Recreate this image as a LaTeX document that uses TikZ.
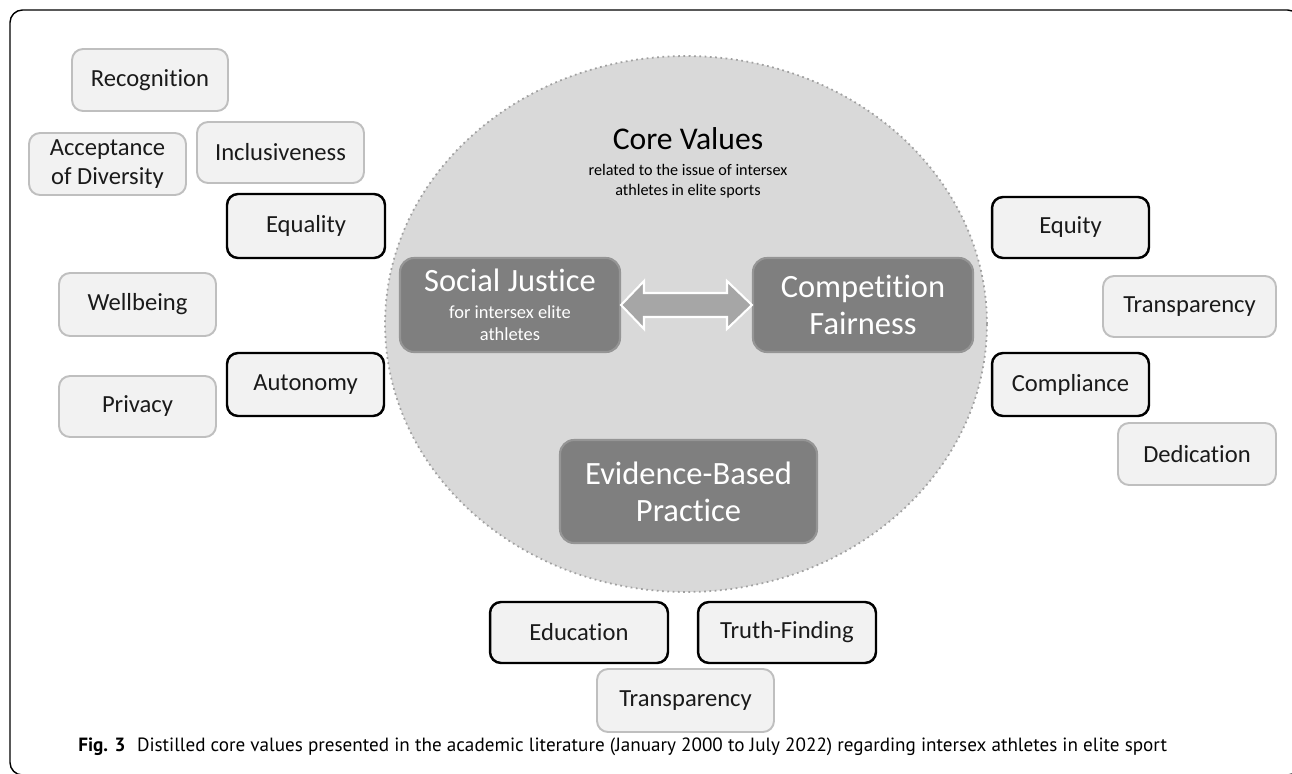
\documentclass[tikz,border=0pt]{standalone}
\usepackage{fontspec}
\setmainfont{Carlito}[Ligatures=CommonOff]
\newfontfamily\captionfont{PT Sans}
\usetikzlibrary{shapes.geometric,calc}
\definecolor{boxfill}{HTML}{F2F2F2}
\definecolor{boxline}{HTML}{BFBFBF}
\definecolor{corefill}{HTML}{7F7F7F}
\definecolor{coreline}{HTML}{959595}
\definecolor{discfill}{HTML}{D9D9D9}
\definecolor{discline}{HTML}{A0A0A0}
\definecolor{arrowfill}{HTML}{A6A6A6}
\definecolor{ink}{HTML}{1A1A1A}
\newcommand{\subtag}[1]{{\fontsize{10.5}{12.5}\selectfont #1}}
\tikzset{
  valuebox/.style={draw=boxline,fill=boxfill,line width=1.1pt,rounded corners=0.22cm,
    minimum width=3.14cm,minimum height=1.24cm,align=center,text=ink,inner sep=0pt,
    font=\fontsize{14}{16.5}\selectfont},
  keybox/.style={valuebox,draw=black,line width=1.4pt},
  corebox/.style={draw=coreline,fill=corefill,line width=1.2pt,rounded corners=0.28cm,
    minimum width=4.40cm,minimum height=1.88cm,align=center,text=white,inner sep=0pt,
    font=\fontsize{18.5}{21}\selectfont},
  disc/.style={ellipse,draw=discline,fill=discfill,dotted,line width=1pt,
    minimum width=12.04cm,minimum height=10.72cm},
  fatarrow/.style={draw=white,fill=arrowfill,line width=1.2pt,line join=miter}
}
\begin{document}
\begin{tikzpicture}[x=0.02cm,y=-0.02cm]
\useasboundingbox(0,0)rectangle(1292,774);
\draw[line width=0.8pt,rounded corners=0.25cm](10,10)rectangle(1300,775);

\node[disc](values)at(686,324){};
\node[font=\fontsize{18}{21}\selectfont,anchor=base](title)at(688,149){Core Values};
\node[font=\fontsize{9.2}{11.3}\selectfont,align=center](sub)at(688,181){related to the issue of intersex\\athletes in elite sports};

\node[corebox,font=\fontsize{18.5}{12.5}\selectfont](sj)at(510,305){Social Justice\\[3pt]\subtag{for intersex elite}\\\subtag{athletes}};
\node[corebox](cf)at(863,305){Competition\\Fairness};
\node[corebox,minimum width=5.14cm,minimum height=2.06cm](ebp)at(688.5,491.5){Evidence-Based\\Practice};
\draw[fatarrow](sj.east)--++(23,-24)--++(0,12)--($(cf.west)+(-25,-12)$)--++(0,-12)--(cf.west)
  --++(-25,24)--++(0,-12)--($(sj.east)+(23,12)$)--++(0,12)--cycle;

\node[valuebox,minimum width=3.12cm](recog)at(150,80){Recognition};
\node[valuebox](accept)at(107.5,164){Acceptance\\of Diversity};
\node[valuebox,minimum width=3.34cm,minimum height=1.22cm](incl)at(280.5,152.5){Inclusiveness};
\node[keybox,minimum width=3.16cm,minimum height=1.28cm](equal)at(306,226){Equality};
\node[valuebox,minimum height=1.26cm](well)at(137.5,304.5){Wellbeing};
\node[valuebox,minimum height=1.22cm](priv)at(137.5,406.5){Privacy};
\node[keybox,minimum height=1.26cm](auto)at(305.5,384.5){Autonomy};

\node[keybox,minimum height=1.22cm](equity)at(1070.5,227.5){Equity};
\node[valuebox,minimum width=3.46cm,minimum height=1.22cm](transr)at(1189.5,306.5){Transparency};
\node[keybox,minimum height=1.26cm](compl)at(1070.5,384.5){Compliance};
\node[valuebox,minimum width=3.16cm](dedic)at(1197,454){Dedication};

\node[keybox,minimum width=3.56cm,minimum height=1.22cm](edu)at(579,632.5){Education};
\node[keybox,minimum width=3.56cm,minimum height=1.22cm](truth)at(787,632.5){Truth-Finding};
\node[valuebox,minimum width=3.54cm,minimum height=1.26cm](transb)at(685.5,700.5){Transparency};

\node[anchor=base west,inner sep=0pt,font=\captionfont\fontsize{10.9}{13}\selectfont](caption)at(78,751)
  {\textbf{Fig. 3}\hspace{0.6em}Distilled core values presented in the academic literature (January 2000 to July 2022) regarding intersex athletes in elite sport};
\end{tikzpicture}
\end{document}
